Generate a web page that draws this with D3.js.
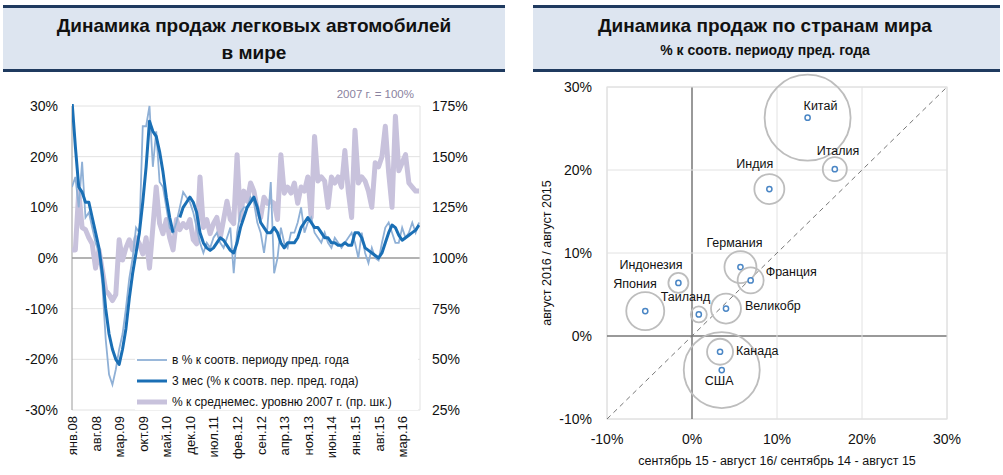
<!DOCTYPE html>
<html><head><meta charset="utf-8">
<script src="https://cdn.jsdelivr.net/npm/d3@7"></script>
<style>body{margin:0;background:#fff}svg{font-family:Arial,"Liberation Sans",sans-serif}</style>
</head><body><svg id="c" width="1003" height="475"></svg>
<script>
// ---- left chart data ----
const startYear = 2008;
const monthNames = ["янв","фев","мар","апр","май","июн","июл","авг","сен","окт","ноя","дек"];
const tickLabels = ["янв.08","авг.08","мар.09","окт.09","май.10","дек.10","июл.11","фев.12","сен.12","апр.13","ноя.13","июн.14","янв.15","авг.15","мар.16"];
const yoyMonthly = [14,16,10,19,8,9,6,3,1,-5,-16,-23,-25,-22,-18,-15,-10,-4,0,6,5,26,26,30,18,25,15,14,10,6,5,7,10,13,12,11,9,6,3,1,3,2,4,5,3,2,4,6,-3,5,9,10,10,12,11,7,5,1,6,15,-3,0,6,3,2,5,5,7,10,5,7,8,5,4,3,5,3,2,4,3,2,3,4,5,3,0,5,1,-1,2,0,-0.5,3,6,7,5,3,3,6,4,5,7,5,7];
const yoy3m = [31,22,14,13,11,11,8,5,2,-3,-10,-15,-18,-20,-21,-18,-14,-8,-3,1,5,11,18,27,25,24,21,17,12,8,5,null,8,10,11,12,11,9,5,3,2,1.5,2,3,4,3.5,2.5,1.5,1,3,6,8,10,11,12,10,7,6,5,5,6,5,3,2,3,3,3,4,6,7,8,7,6,6,5,4,4,3,3,2.5,2.5,3,2.5,2.5,5,5,4,2,1.5,1,0.5,0,1,3,5,6.5,6,4.5,3.5,4,4.5,5,5.5,6.5];
const index2007 = [104,104,133,115,114,110,107,95,104,94,84,82,79,82,109,99,105,109,104,110,107,102,110,95,115,135,117,112,119,110,104,119,114,117,115,119,109,107,140,115,119,112,117,120,110,119,128,119,117,151,119,133,128,137,133,124,120,130,127,128,127,119,151,132,135,132,137,127,135,133,140,120,160,138,140,138,125,140,137,140,135,153,133,120,163,137,140,138,133,125,147,145,150,165,142,125,170,143,147,151,137,135,133,133];
const legendNames = ["в % к соотв. периоду пред. года","3 мес (% к соотв. пер. пред. года)","% к среднемес. уровню 2007 г. (пр. шк.)"];
const leftTicks = [-30,-20,-10,0,10,20,30];
const rightTicks = [25,50,75,100,125,150,175];

// ---- right chart data ----
const countries = ["Китай","Италия","Индия","Германия","Франция","Индонезия","Япония","Таиланд","Великобр","Канада","США",""];
const prevYear  = [13.6,16.8,9.1,5.7,6.9,-1.6,-5.5,0.8,4.0,3.3,3.5,8.6];
const curYear   = [26.3,20.1,17.7,8.3,6.7,6.4,3.0,2.6,3.3,-1.9,-4.1,-11.6];
const marketSize= [43,12,15,16,13,10,19,8,15,13,38,10];
const scatterTicks = [-10,0,10,20,30];

const svg = d3.select("#c");
const NAVY="#1f3a5f", HDR="#dde5f0";
const narrow = "'Liberation Sans Narrow','Arial Narrow',Arial,sans-serif";

// headers
[[3,505],[533,1000]].forEach(([a,b])=>{
  svg.append("rect").attr("x",a).attr("y",6).attr("width",b-a).attr("height",65).attr("fill",HDR);
  svg.append("rect").attr("x",a).attr("y",5).attr("width",b-a).attr("height",3).attr("fill",NAVY);
  svg.append("rect").attr("x",a).attr("y",69).attr("width",b-a).attr("height",3).attr("fill",NAVY);
});
const ht=(x,y,t,s)=>svg.append("text").attr("x",x).attr("y",y).attr("text-anchor","middle").attr("font-family",narrow).attr("font-weight","bold").attr("font-size",s).attr("fill","#111").text(t);
ht(254,32,"Динамика продаж легковых автомобилей",19);
ht(254,59,"в мире",19);
ht(765,32,"Динамика продаж по странам мира",19);
ht(765,55,"% к соотв. периоду пред. года",14);

// ---- left chart ----
const L={l:72,r:420,t:106,b:410};
const n = index2007.length;
const x = d3.scaleLinear().domain([0,103]).range([L.l,L.r-1]);
const yL = d3.scaleLinear().domain([-30,30]).range([L.b,L.t]);
const yR = d3.scaleLinear().domain([25,175]).range([L.b,L.t]);
const g = svg.append("g");
leftTicks.forEach(v=>{
  g.append("line").attr("x1",L.l).attr("x2",L.r).attr("y1",yL(v)).attr("y2",yL(v)).attr("stroke",v===0?"#9a9a9a":"#e2e2e2").attr("stroke-width",v===0?1.5:1);
});
g.append("line").attr("x1",L.l).attr("x2",L.l).attr("y1",L.t).attr("y2",L.b).attr("stroke","#9a9a9a");
g.append("line").attr("x1",L.r).attr("x2",L.r).attr("y1",L.t).attr("y2",L.b).attr("stroke","#e2e2e2");
leftTicks.forEach(v=>g.append("text").attr("x",58).attr("y",yL(v)+5).attr("text-anchor","end").attr("font-size",14).attr("fill","#111").text(v+"%"));
rightTicks.forEach(v=>g.append("text").attr("x",432).attr("y",yR(v)+5).attr("font-size",14).attr("fill","#111").text(v+"%"));
g.append("text").attr("x",414).attr("y",98).attr("text-anchor","end").attr("font-size",11.5).attr("fill","#8a82a0").text("2007 г. = 100%");
tickLabels.forEach((t,i)=>{
  const xi=x(i*7);
  g.append("text").attr("transform",`translate(${xi+5},416) rotate(-90)`).attr("text-anchor","end").attr("font-size",13).attr("fill","#111").text(t);
});
const clip=svg.append("clipPath").attr("id","lc").append("rect").attr("x",L.l).attr("y",L.t-2).attr("width",L.r-L.l).attr("height",L.b-L.t+2);
const lg=g.append("g").attr("clip-path","url(#lc)");
lg.append("path").datum(index2007).attr("fill","none").attr("stroke","#c8c2dc").attr("stroke-width",5).attr("stroke-linejoin","round")
  .attr("d",d3.line().x((d,i)=>x(i)).y(d=>yR(d)));
lg.append("path").datum(yoyMonthly).attr("fill","none").attr("stroke","#8fb0d6").attr("stroke-width",1.8)
  .attr("d",d3.line().x((d,i)=>x(i)).y(d=>yL(d)));
lg.append("path").datum(yoy3m).attr("fill","none").attr("stroke","#1a6fb5").attr("stroke-width",3).attr("stroke-linejoin","round")
  .attr("d",d3.line().defined(d=>d!==null).x((d,i)=>x(i)).y(d=>yL(d)));
// legend
g.append("rect").attr("x",135).attr("y",348).attr("width",283).attr("height",62).attr("fill","#fff");
const ls=[["#8fb0d6",1.8],["#1a6fb5",3],["#c8c2dc",5]];
legendNames.forEach((t,i)=>{
  const yy=360+i*21;
  g.append("line").attr("x1",137).attr("x2",167).attr("y1",yy).attr("y2",yy).attr("stroke",ls[i][0]).attr("stroke-width",ls[i][1]);
  g.append("text").attr("x",172).attr("y",yy+4).attr("font-size",12).attr("fill","#111").text(t);
});

// ---- right chart ----
const R={l:607,r:947,t:87,b:419};
const sx=d3.scaleLinear().domain([-10,30]).range([R.l,R.r]);
const sy=d3.scaleLinear().domain([-10,30]).range([R.b,R.t]);
const rg=svg.append("g");
rg.append("rect").attr("x",R.l).attr("y",R.t).attr("width",R.r-R.l).attr("height",R.b-R.t).attr("fill","none").attr("stroke","#dcdcdc");
scatterTicks.forEach(v=>{
  rg.append("line").attr("x1",sx(v)).attr("x2",sx(v)).attr("y1",R.t).attr("y2",R.b).attr("stroke",v===0?"#777":"#e2e2e2").attr("stroke-width",v===0?1.5:1);
  rg.append("line").attr("x1",R.l).attr("x2",R.r).attr("y1",sy(v)).attr("y2",sy(v)).attr("stroke",v===0?"#777":"#e2e2e2").attr("stroke-width",v===0?1.5:1);
  rg.append("text").attr("x",592).attr("y",sy(v)+5).attr("text-anchor","end").attr("font-size",14).attr("fill","#111").text(v+"%");
  rg.append("text").attr("x",sx(v)).attr("y",444).attr("text-anchor","middle").attr("font-size",14).attr("fill","#111").text(v+"%");
});
rg.append("line").attr("x1",sx(-10)).attr("y1",sy(-10)).attr("x2",sx(30)).attr("y2",sy(30)).attr("stroke","#777").attr("stroke-dasharray","5,4");
rg.append("text").attr("x",777).attr("y",465).attr("text-anchor","middle").attr("font-size",12.5).attr("fill","#111").text("сентябрь 15 - август 16/ сентябрь 14 - август 15");
rg.append("text").attr("transform","translate(551,253) rotate(-90)").attr("text-anchor","middle").attr("font-size",12.5).attr("fill","#111").text("август 2016 / август 2015");
svg.append("clipPath").attr("id","rc").append("rect").attr("x",R.l).attr("y",R.t-50).attr("width",R.r-R.l).attr("height",R.b-R.t+50);
const bg=rg.append("g").attr("clip-path","url(#rc)");
const labelOffset={"Китай":[-4,-8],"Италия":[-18,-14],"Индия":[-33,-21],"Германия":[-34,-20],"Франция":[15,-4],"Индонезия":[-59,-14],"Япония":[-32,-23],"Таиланд":[-38,-13],"Великобр":[19,1],"Канада":[16,3],"США":[-17,15]};
countries.forEach((c,i)=>{
  const px=sx(prevYear[i]), py=sy(curYear[i]);
  bg.append("circle").attr("cx",px).attr("cy",py).attr("r",marketSize[i]).attr("fill","none").attr("stroke","#bdbdbd").attr("stroke-width",1.8);
  if(c){
    bg.append("circle").attr("cx",px).attr("cy",py).attr("r",2.6).attr("fill","#fff").attr("stroke","#4a86c5").attr("stroke-width",1.5);
    const o=labelOffset[c];
    rg.append("text").attr("x",px+o[0]).attr("y",py+o[1]).attr("font-size",12.5).attr("fill","#111").text(c);
  }
});
</script></body></html>
